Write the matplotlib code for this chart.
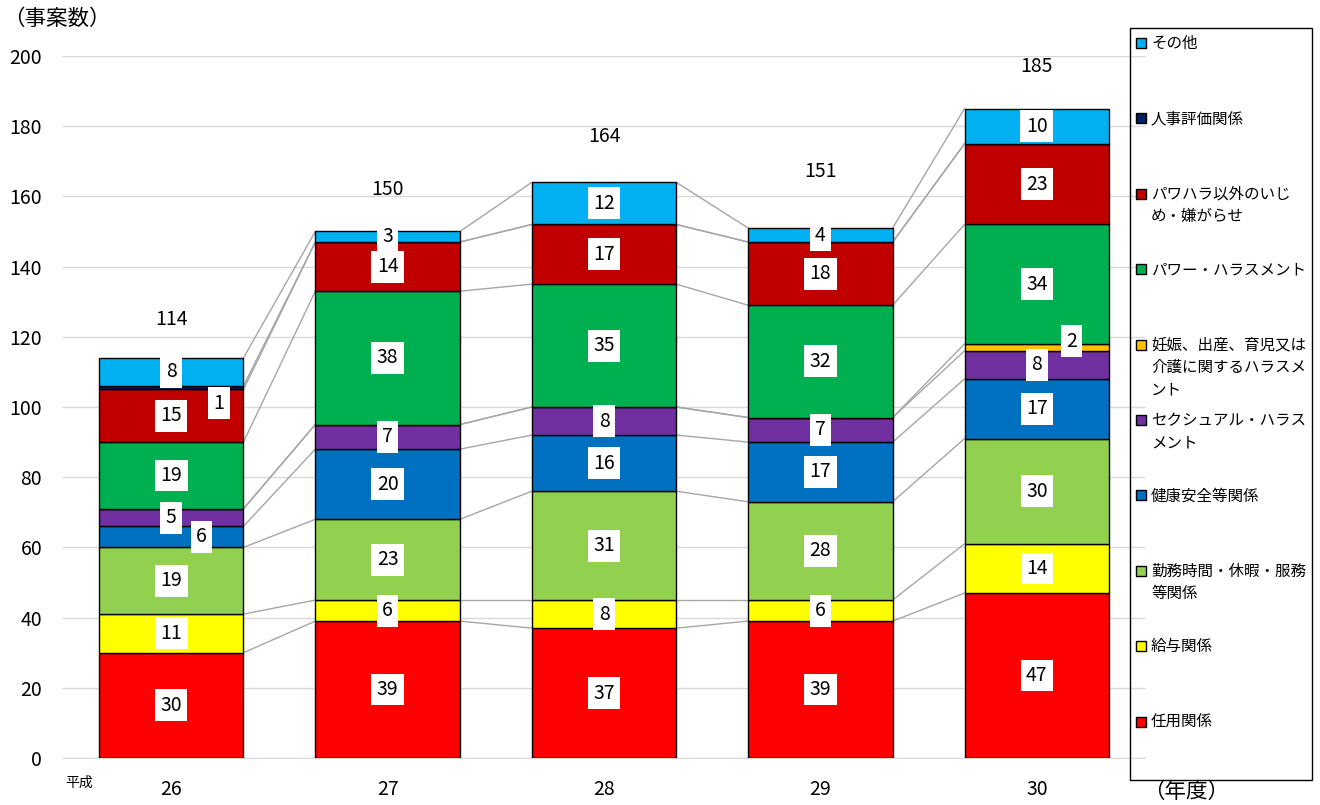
import matplotlib
matplotlib.use('Agg')
import matplotlib.pyplot as plt
from matplotlib.patches import Rectangle
import numpy as np

plt.rcParams['font.family'] = ['Noto Sans CJK JP', 'DejaVu Sans']

years = ['26', '27', '28', '29', '30']
series_names = ['任用関係', '給与関係', '勤務時間・休暇・服務等関係', '健康安全等関係',
                'セクシュアル・ハラスメント', '妊娠、出産、育児又は介護に関するハラスメント',
                'パワー・ハラスメント', 'パワハラ以外のいじめ・嫌がらせ', '人事評価関係', 'その他']
legend_labels = ['任用関係', '給与関係', '勤務時間・休暇・服務\n等関係', '健康安全等関係',
                 'セクシュアル・ハラス\nメント', '妊娠、出産、育児又は\n介護に関するハラスメ\nント',
                 'パワー・ハラスメント', 'パワハラ以外のいじ\nめ・嫌がらせ', '人事評価関係', 'その他']
ninyo = [30, 39, 37, 39, 47]
kyuyo = [11, 6, 8, 6, 14]
kinmu = [19, 23, 31, 28, 30]
kenko = [6, 20, 16, 17, 17]
sekuhara = [5, 7, 8, 7, 8]
ninshin = [0, 0, 0, 0, 2]
pawahara = [19, 38, 35, 32, 34]
ijime = [15, 14, 17, 18, 23]
jinji = [1, 0, 0, 0, 0]
sonota = [8, 3, 12, 4, 10]
series = [ninyo, kyuyo, kinmu, kenko, sekuhara, ninshin, pawahara, ijime, jinji, sonota]
colors = ['#FF0000', '#FFFF00', '#92D050', '#0070C0', '#7030A0', '#FFC000',
          '#00B050', '#C00000', '#002060', '#00B0F0']

W, H = 1320, 805
fig = plt.figure(figsize=(W / 100, H / 100), dpi=100)
ax = fig.add_axes([63 / W, 1 - 758 / H, (1145 - 63) / W, (758 - 56) / H])

x = np.arange(len(years))
width = 0.668
bottom = np.zeros(len(years))
tops = []
for vals, col, name in zip(series, colors, series_names):
    v = np.array(vals, dtype=float)
    ax.bar(x, v, width, bottom=bottom, color=col, edgecolor='black', linewidth=1.0,
           zorder=3, label=name)
    tops.append(bottom + v)
    bottom = bottom + v
totals = bottom

# series lines
for t in tops:
    for i in range(len(years) - 1):
        ax.plot([x[i] + width / 2, x[i + 1] - width / 2], [t[i], t[i + 1]],
                color='#A6A6A6', lw=1.0, zorder=2)

# data labels
label_offsets = {(8, 0): (0.22, -4.4), (3, 0): (0.14, 0.0), (5, 4): (0.16, 1.8)}
cum = np.zeros(len(years))
for k, vals in enumerate(series):
    for i, v in enumerate(vals):
        if v > 0:
            dx, dy = label_offsets.get((k, i), (0, 0))
            ax.text(x[i] + dx, cum[i] + v / 2 + dy, str(v), ha='center', va='center',
                    fontsize=14, zorder=5,
                    bbox=dict(boxstyle='square,pad=0.28', fc='white', ec='none'))
    cum = cum + np.array(vals)

total_offsets = [11, 12, 13, 16, 12]
for i, t in enumerate(totals):
    ax.text(x[i], t + total_offsets[i], str(int(t)), ha='center', va='center', fontsize=14)

ax.set_xlim(-0.5, len(years) - 0.5)
ax.set_ylim(0, 200)
ax.set_yticks(np.arange(0, 201, 20))
ax.set_xticks(x)
ax.set_xticklabels(years)
ax.tick_params(axis='both', length=0, labelsize=14)
ax.tick_params(axis='y', pad=15)
ax.tick_params(axis='x', pad=15)
ax.grid(axis='y', color='#D9D9D9', lw=1.0, zorder=0)
ax.set_axisbelow(True)
for s in ['left', 'right', 'top']:
    ax.spines[s].set_visible(False)
ax.spines['bottom'].set_color('#D9D9D9')
ax.spines['bottom'].set_zorder(1)

fig.text(3 / W, 1 - 19 / H, '（事案数）', fontsize=15.5, ha='left', va='center')
fig.text(1143 / W, 1 - 792 / H, '（年度）', fontsize=15.5, ha='left', va='center')
fig.text(65 / W, 1 - 783 / H, '平成', fontsize=10, ha='left', va='center')

# legend box
fig.patches.append(Rectangle((1130 / W, 1 - 780 / H), (1312 - 1130) / W, (780 - 28) / H,
                             transform=fig.transFigure, fc='none', ec='black', lw=1.0))
leg_y0 = 43
leg_step = 75.4
for j, k in enumerate(range(len(series) - 1, -1, -1)):
    yc = leg_y0 + j * leg_step
    fig.patches.append(Rectangle((1136 / W, 1 - (yc + 5) / H), 10 / W, 10 / H,
                                 transform=fig.transFigure, fc=colors[k], ec='black', lw=1.0))
    fig.text(1151 / W, 1 - (yc - 8) / H, legend_labels[k], fontsize=11.2, ha='left',
             va='top', linespacing=1.42)

fig.savefig('out.png', dpi=100)
